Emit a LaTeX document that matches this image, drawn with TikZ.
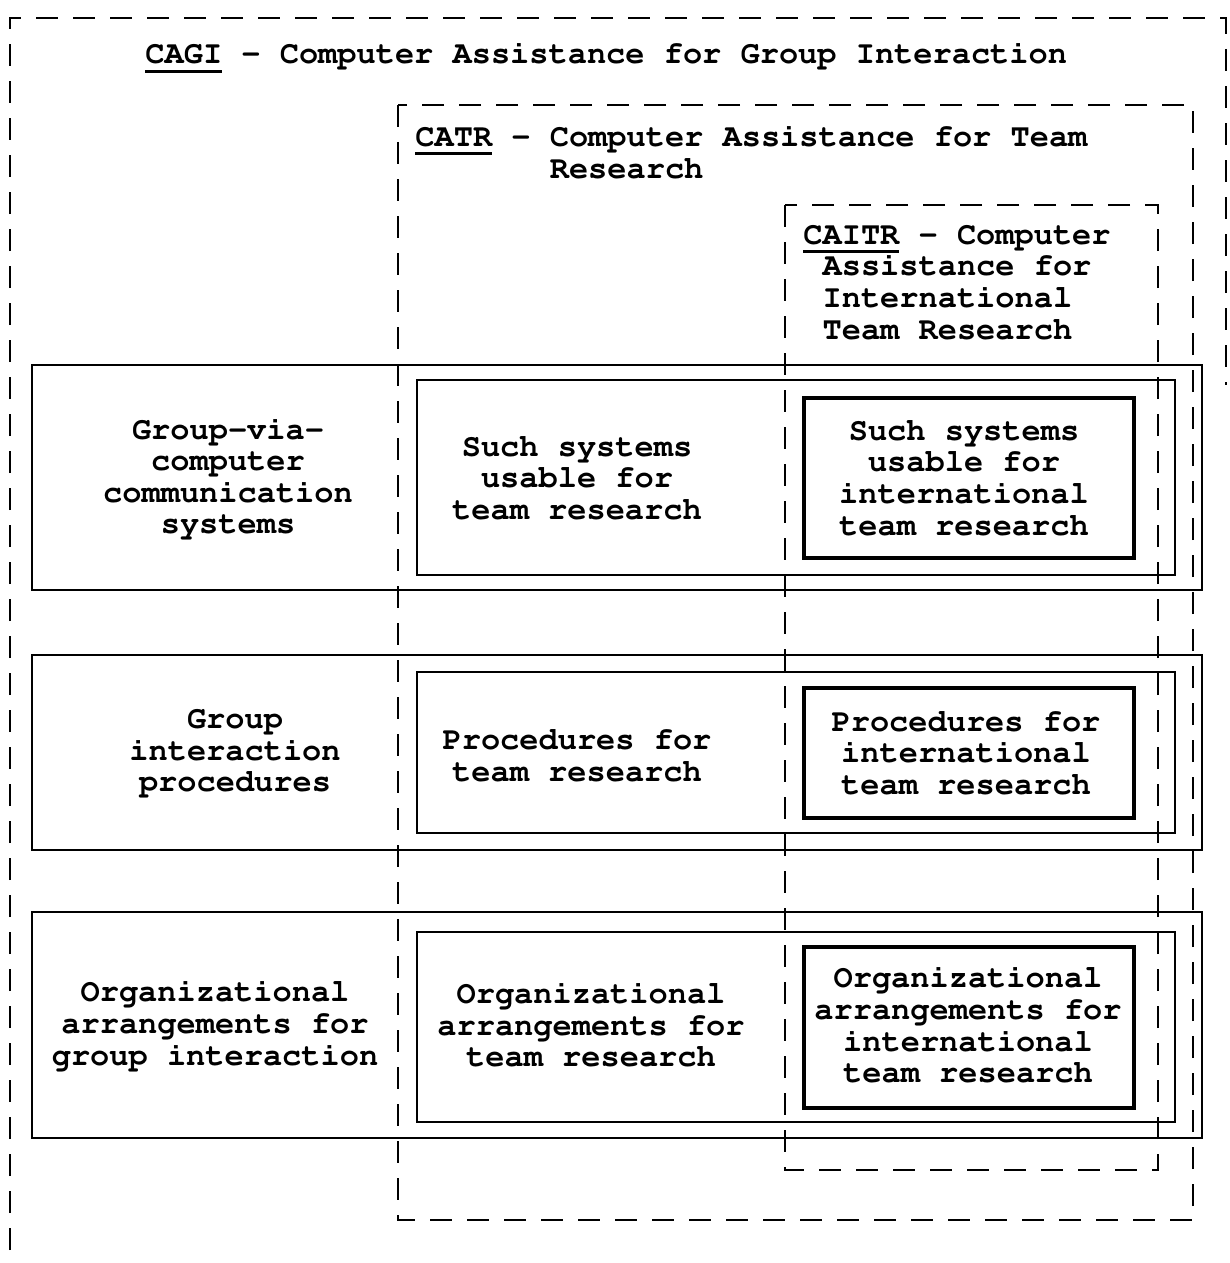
\documentclass[tikz,border=0pt]{standalone}
\usepackage[T1]{fontenc}
\usepackage{courier}
\usepackage{tikz}

\newcommand{\acro}[1]{\leavevmode\setbox0\hbox{#1}\rlap{\rule[-4.5pt]{\wd0}{1.5pt}}\box0\relax}

\tikzset{
  scopeline/.style={line width=1.4pt, dash pattern=on 11pt off 7.5pt},
  rowbox/.style={line width=1.4pt},
  itembox/.style={line width=1.9pt},
  txt/.style={inner sep=0pt, align=center, font=\ttfamily\bfseries\fontsize{16}{15.8}\selectfont},
}

\begin{document}
\begin{tikzpicture}[x=0.5pt,y=-0.5pt]
    \useasboundingbox (0,0) rectangle (1230,1263);
    % the three scopes
    \draw[scopeline] (10,1250) to (10,18) to (1226,18) to (1226,385);
    \draw[scopeline] (398,105) rectangle (1193,1220);
    \draw[scopeline] (785,205) rectangle (1158,1170);
    \node[txt, anchor=base west] (cagi) at (145,64)
      {\acro{CAGI} - Computer Assistance for Group Interaction};
    \node[txt, align=left, anchor=base west] (catr) at (415,178)
      {\acro{CATR} - Computer Assistance for Team\\\hphantom{CATR - }Research};
    \node[txt, align=left, anchor=base west] (caitr) at (803,339)
      {\acro{CAITR} - Computer\\\hphantom{C}Assistance for\\\hphantom{C}International\\\hphantom{C}Team Research};
    % rows: outer, team, international
    \foreach \a/\b/\c/\d/\e/\f in {365/590/380/575/398/558,655/850/672/833/688/818,912/1138/932/1122/947/1108} {
      \draw[rowbox] (32,\a) rectangle (1202,\b);
      \draw[rowbox] (417,\c) rectangle (1175,\d);
      \draw[itembox] (804,\e) rectangle (1134,\f);
    }
    \node[txt] (gvc) at (228,478) {Group-via-\\computer\\communication\\systems};
    \node[txt] (such) at (577,478) {Such systems\\usable for\\team research};
    \node[txt] (suchint) at (964,478) {Such systems\\usable for\\international\\team research};
    \node[txt] (gip) at (235,753) {Group\\interaction\\procedures};
    \node[txt] (proc) at (577,756) {Procedures for\\team research};
    \node[txt] (procint) at (966,753) {Procedures for\\international\\team research};
    \node[txt] (oag) at (215,1025) {Organizational\\arrangements for\\group interaction};
    \node[txt] (org) at (591,1025) {Organizational\\arrangements for\\team research};
    \node[txt] (orgint) at (968,1025) {Organizational\\arrangements for\\international\\team research};
  \end{tikzpicture}
\end{document}
